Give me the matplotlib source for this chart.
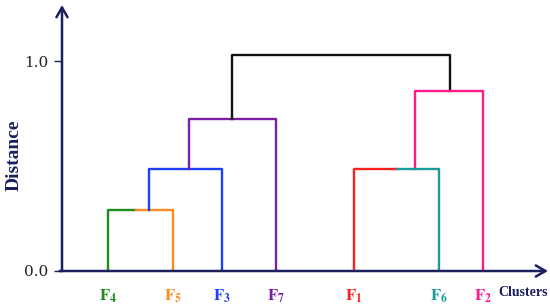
import matplotlib.pyplot as plt

plt.rcParams["font.family"] = ["Liberation Serif", "DejaVu Serif"]
plt.rcParams["mathtext.fontset"] = "stix"

NAVY = "#1b1f5c"

# leaves (position along the cluster axis) and their colours
leaf_names = ["4", "5", "3", "7", "1", "6", "2"]
leaf_pos = [108, 173, 222, 276, 354, 439, 483]
leaf_colors = ["#1c8c1c", "#ff8a1f", "#1f3fff", "#7b1fa2", "#ff1f1f", "#1a9a9a", "#ff1a8c"]

# dendrogram links: polylines (x list, distance list, colour)
link_x = [
    [108, 108, 136],
    [136, 173, 173],
    [149, 149, 222, 222],
    [189, 189, 276, 276],
    [232, 232, 450, 450],
    [415, 415, 483, 483],
    [354, 354, 397],
    [397, 439, 439],
]
link_y = [
    [0.0, 0.29, 0.29],
    [0.29, 0.29, 0.0],
    [0.29, 0.487, 0.487, 0.0],
    [0.487, 0.724, 0.724, 0.0],
    [0.724, 1.029, 1.029, 0.856],
    [0.487, 0.856, 0.856, 0.0],
    [0.0, 0.487, 0.487],
    [0.487, 0.487, 0.0],
]
link_colors = ["#1c8c1c", "#ff8a1f", "#1f3fff", "#7b1fa2", "#111111",
               "#ff1a8c", "#ff1f1f", "#1a9a9a"]

y_ticks = [0.0, 1.0]
y_ticklabels = ["0.0", "1.0"]

fig = plt.figure(figsize=(5.5, 3.07), dpi=100)
ax = fig.add_axes([62 / 550, 36 / 307, 486 / 550, 266 / 307])

for xs, ys, c in zip(link_x, link_y, link_colors):
    ax.plot(xs, ys, color=c, lw=1.7, solid_capstyle="projecting", zorder=2)

ax.set_xlim(62, 548)
ax.set_ylim(0, 1.267)

for s in ax.spines.values():
    s.set_visible(False)

# axis arrows
arrow = dict(arrowstyle="->,head_length=0.7,head_width=0.4", color=NAVY, lw=1.8,
             shrinkA=0, shrinkB=0)
ax.annotate("", xy=(0, 1), xytext=(0, 0), xycoords="axes fraction", arrowprops=arrow)
ax.annotate("", xy=(1, 0), xytext=(-0.005, 0), xycoords="axes fraction", arrowprops=arrow)

ax.set_yticks(y_ticks)
ax.set_yticklabels(y_ticklabels, fontsize=11, color="#222222", family="DejaVu Serif")
ax.tick_params(axis="y", length=6, width=1, color=NAVY, pad=4)

ax.set_xticks(leaf_pos)
ax.set_xticklabels([r"$\mathbf{F}_{\mathbf{%s}}$" % n for n in leaf_names], fontsize=12)
for lbl, c in zip(ax.get_xticklabels(), leaf_colors):
    lbl.set_color(c)
ax.tick_params(axis="x", length=0, pad=12)

ax.text(1.0, -0.082, "Clusters", transform=ax.transAxes, ha="right", va="center",
        fontsize=10, fontweight="bold", color=NAVY)
fig.text(14 / 550, 1 - 155 / 307, "Distance", rotation=90, ha="center", va="center",
         fontsize=14, fontweight="bold", color=NAVY)

fig.savefig("out.png", dpi=100)
